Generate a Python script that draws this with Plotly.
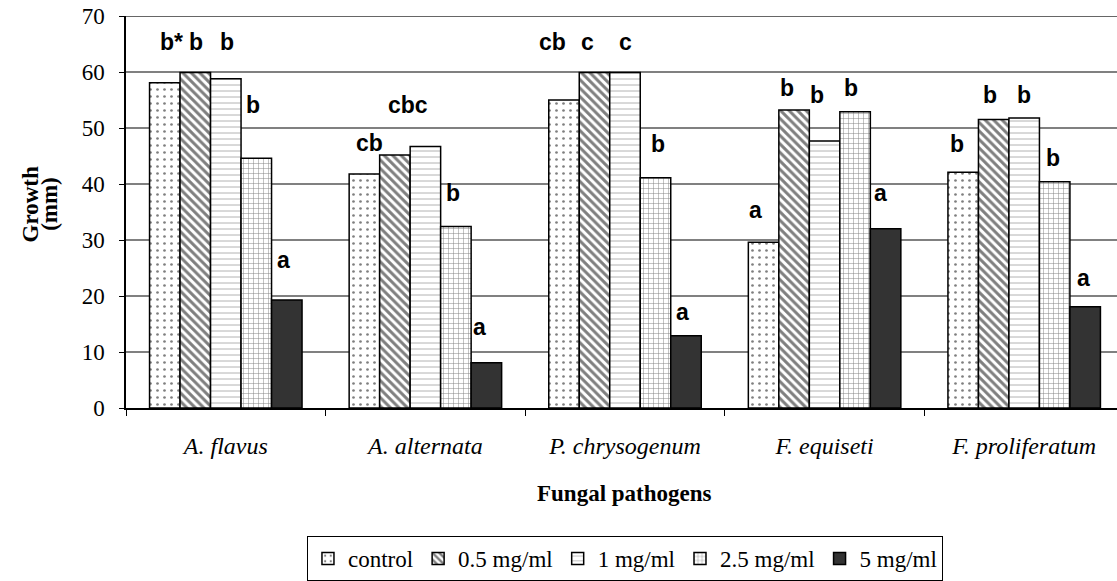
import plotly.graph_objects as go

categories = ["A. flavus", "A. alternata", "P. chrysogenum", "F. equiseti", "F. proliferatum"]
series_names = ["control", "0.5 mg/ml", "1 mg/ml", "2.5 mg/ml", "5 mg/ml"]
control = [58.1, 41.8, 55.0, 29.6, 42.1]
c05 = [59.9, 45.2, 59.9, 53.2, 51.5]
c1 = [58.8, 46.7, 59.9, 47.7, 51.8]
c25 = [44.6, 32.4, 41.1, 52.9, 40.4]
c5 = [19.3, 8.1, 12.9, 32.0, 18.1]
values = [control, c05, c1, c25, c5]

# significance letters: (category index, letter, bar offset in bar widths, y)
letters = [
    (0, "b*", -1.77, 65.3), (0, "b", -0.97, 65.3), (0, "b", 0.04, 65.3), (0, "b", 0.9, 54.1), (0, "a", 1.88, 26.4),
    (1, "cb", -1.82, 47.3), (1, "cbc", -0.57, 54.1), (1, "b", 0.91, 38.4), (1, "a", 1.77, 14.5),
    (2, "cb", -2.39, 65.3), (2, "c", -1.22, 65.3), (2, "c", 0.02, 65.3), (2, "b", 1.09, 47.1), (2, "a", 1.87, 17.2),
    (3, "a", -2.25, 35.4), (3, "b", -1.23, 57.1), (3, "b", -0.24, 55.9), (3, "b", 0.85, 57.1), (3, "a", 1.83, 38.4),
    (4, "b", -2.2, 47.1), (4, "b", -1.11, 55.9), (4, "b", -0.02, 55.9), (4, "b", 0.93, 44.6), (4, "a", 1.95, 23.2),
]

styles = [
    dict(color="white", pattern=dict(shape=".", fgcolor="black", bgcolor="white", size=7, solidity=0.12)),
    dict(color="white", pattern=dict(shape="\\", fgcolor="black", bgcolor="white", size=6, solidity=0.5)),
    dict(color="white", pattern=dict(shape="-", fgcolor="#555555", bgcolor="white", size=6, solidity=0.15)),
    dict(color="white", pattern=dict(shape="+", fgcolor="black", bgcolor="white", size=5, solidity=0.18)),
    dict(color="#333333"),
]

bargap = 0.236
serif = "Liberation Serif"

fig = go.Figure()
for name, vals, st in zip(series_names, values, styles):
    fig.add_trace(go.Bar(
        x=categories, y=vals, name=name,
        marker=dict(**st, line=dict(color="black", width=1.5)),
    ))

w = (1 - bargap) / len(series_names)
for k, txt, off, yv in letters:
    fig.add_annotation(
        x=k + off * w, y=yv, xref="x", yref="y", text=f"<b>{txt}</b>",
        showarrow=False, xanchor="center", yanchor="middle",
        font=dict(family="Liberation Sans", size=23, color="black"),
    )

# axis titles
fig.add_annotation(x=0.5035, y=-0.217, xref="paper", yref="paper", text="<b>Fungal pathogens</b>",
                   showarrow=False, xanchor="center", yanchor="middle",
                   font=dict(family=serif, size=23, color="black"))
fig.add_annotation(x=-0.0966, y=0.52, xref="paper", yref="paper", text="<b>Growth</b>",
                   showarrow=False, xanchor="center", yanchor="middle", textangle=-90,
                   font=dict(family=serif, size=23, color="black"))
fig.add_annotation(x=-0.078, y=0.52, xref="paper", yref="paper", text="<b>(mm)</b>",
                   showarrow=False, xanchor="center", yanchor="middle", textangle=-90,
                   font=dict(family=serif, size=23, color="black"))

fig.add_shape(type="line", xref="paper", yref="y", x0=0, x1=1, y0=70, y1=70,
              line=dict(color="#333333", width=1.5))

fig.update_layout(
    width=1117, height=581,
    margin=dict(l=126, r=0, t=16, b=173),
    paper_bgcolor="white", plot_bgcolor="white",
    barmode="group", bargap=bargap, bargroupgap=0,
    font=dict(family=serif, size=23, color="black"),
    legend=dict(orientation="h", x=0.5035, xanchor="center", y=-0.3265, yanchor="top",
                bordercolor="black", borderwidth=1, font=dict(family=serif, size=23),
                itemwidth=30, tracegroupgap=0),
    showlegend=True,
    hovermode=False,
)
fig.update_xaxes(
    range=[-0.5, 4.465], showgrid=False, showline=True, linecolor="black", linewidth=1.5,
    ticks="outside", ticklen=6, tickcolor="black", tickson="boundaries",
    tickfont=dict(family=serif, size=24, style="italic"), ticklabelstandoff=15,
)
fig.update_yaxes(
    range=[0, 70], dtick=10, showgrid=True, gridcolor="#808080", gridwidth=1.5,
    showline=True, linecolor="black", linewidth=1.5, ticks="outside", ticklen=5, tickcolor="black",
    tickfont=dict(family=serif, size=23), ticklabelstandoff=10, zeroline=False,
)

fig.write_html("out.html", config={"displayModeBar": False},
               post_script="document.body.style.margin='0px';")
